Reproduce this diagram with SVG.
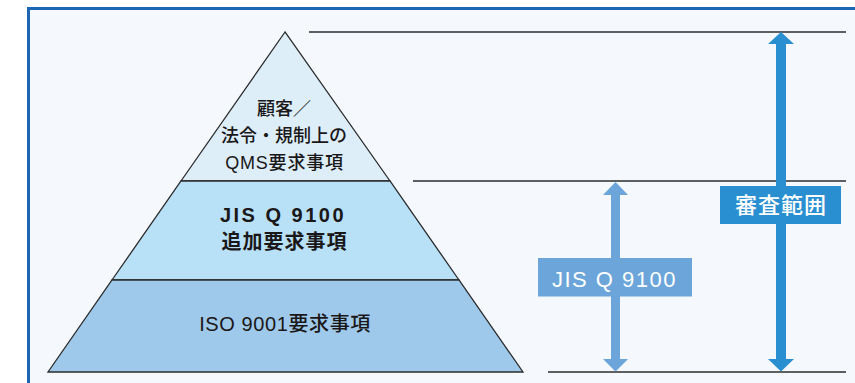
<svg xmlns="http://www.w3.org/2000/svg" width="855" height="383" viewBox="0 0 855 383">
  <style>
    .frame { fill: #f5f9fe; stroke: #1c66b4; stroke-width: 3; }
    .edge { stroke: #2b2b2b; stroke-width: 1.3; fill: none; }
    .tier { stroke: #2b2b2b; stroke-width: 1.3; }
    .txt { font-family: "Liberation Sans", "Noto Sans CJK JP", sans-serif; fill: #1a1718; text-anchor: middle; font-weight: 500; }
    .b { font-weight: bold; }
    .lbl { font-family: "Liberation Sans", "Noto Sans CJK JP", sans-serif; fill: #ffffff; text-anchor: middle; font-weight: 500; }
  </style>
  <rect class="frame" x="28.5" y="8.5" width="840" height="390"/>

  <g id="tier-top">
    <polygon class="tier" points="285,32 181,181 390,181" fill="#ddeef9"/>
    <text class="txt" font-size="18" x="284" y="115">顧客／</text>
    <text class="txt" font-size="18" x="284" y="142">法令・規制上の</text>
    <text class="txt" font-size="18" x="284.5" y="169" letter-spacing="0.8">QMS要求事項</text>
  </g>
  <g id="tier-middle">
    <polygon class="tier" points="181,181 390,181 459,280 112,280" fill="#b8e0f7"/>
    <text class="txt b" font-size="20" x="283" y="222" letter-spacing="2.5">JIS Q 9100</text>
    <text class="txt b" font-size="20" x="284.5" y="249" letter-spacing="1">追加要求事項</text>
  </g>
  <g id="tier-bottom">
    <polygon class="tier" points="112,280 459,280 523,372 48,372" fill="#9fc9ea"/>
    <text class="txt" font-size="20" x="285" y="331" letter-spacing="0.6">ISO 9001要求事項</text>
  </g>

  <g id="connectors">
    <line class="edge" x1="309" y1="32" x2="846" y2="32"/>
    <line class="edge" x1="413" y1="181" x2="846" y2="181"/>
    <line class="edge" x1="548" y1="372" x2="846" y2="372"/>
    <polygon fill="#6ba5d9" points="615.5,182 628,195 620,195 620,359 628,359 615.5,371.5 603,359 611,359 611,195 603,195"/>
    <polygon fill="#2a8fd0" points="781,32 794,44 786,44 786,359 794,359 781,371.5 768,359 776,359 776,44 768,44"/>
  </g>

  <g id="label-jis">
    <rect x="538" y="258" width="154" height="38.5" fill="#6ba5d9"/>
    <text class="lbl" font-size="22" x="614.5" y="286.5" letter-spacing="1.5">JIS Q 9100</text>
  </g>
  <g id="label-scope">
    <rect x="720" y="186" width="121" height="38" fill="#2a8fd0"/>
    <text class="lbl" font-size="22" x="781" y="213" letter-spacing="1">審査範囲</text>
  </g>
</svg>
